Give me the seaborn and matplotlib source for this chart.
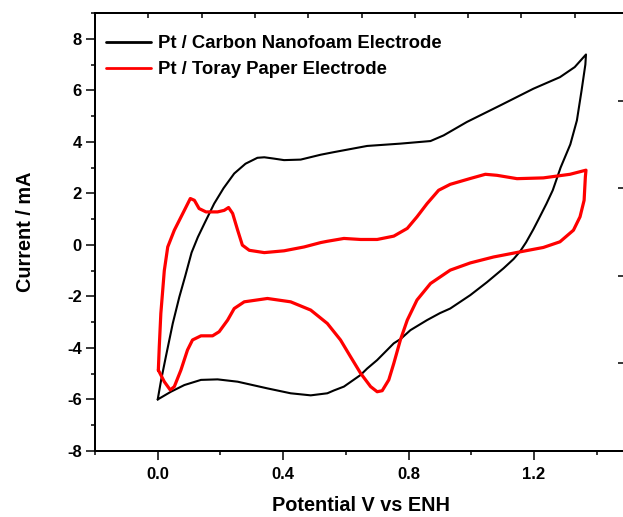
import matplotlib
matplotlib.use("Agg")
import matplotlib.pyplot as plt
from matplotlib.ticker import MultipleLocator, NullFormatter
import seaborn as sns
import pandas as pd

# Cyclic voltammograms: potential (V vs ENH) and current (mA)
nanofoam_v = [0.000, 0.011, 0.026, 0.048, 0.069, 0.088, 0.108, 0.128, 0.149, 0.180,
              0.210, 0.244, 0.280, 0.318, 0.340, 0.370, 0.403, 0.456, 0.520, 0.562,
              0.668, 0.774, 0.870, 0.912, 0.986, 1.092, 1.198, 1.283, 1.330, 1.366,
              1.364, 1.352, 1.337, 1.316, 1.285, 1.260, 1.240, 1.215, 1.198, 1.175,
              1.156, 1.135, 1.103, 1.050, 0.997, 0.933, 0.900, 0.859, 0.806, 0.775,
              0.753, 0.700, 0.668, 0.647, 0.594, 0.562, 0.541, 0.488, 0.424, 0.350,
              0.255, 0.191, 0.138, 0.085, 0.042, 0.000]
nanofoam_i = [-6.00, -5.24, -4.34, -3.05, -2.02, -1.20, -0.30, 0.30, 0.83, 1.60,
              2.20, 2.77, 3.15, 3.38, 3.40, 3.35, 3.29, 3.31, 3.50, 3.60,
              3.84, 3.93, 4.03, 4.25, 4.77, 5.41, 6.06, 6.51, 6.90, 7.39,
              7.00, 6.00, 4.83, 3.90, 3.00, 2.12, 1.60, 1.00, 0.60, 0.10,
              -0.25, -0.55, -0.91, -1.45, -1.95, -2.47, -2.65, -2.92, -3.31, -3.65,
              -3.82, -4.47, -4.80, -5.05, -5.50, -5.65, -5.76, -5.84, -5.76, -5.57,
              -5.31, -5.22, -5.24, -5.44, -5.70, -6.00]

toray_v = [0.002, 0.005, 0.010, 0.016, 0.021, 0.032, 0.053, 0.080, 0.104, 0.117,
           0.132, 0.154, 0.191, 0.212, 0.226, 0.239, 0.255, 0.270, 0.292, 0.340,
           0.403, 0.467, 0.520, 0.541, 0.594, 0.647, 0.700, 0.753, 0.796, 0.827,
           0.859, 0.896, 0.933, 0.995, 1.045, 1.082, 1.146, 1.230, 1.315, 1.366,
           1.364, 1.360, 1.347, 1.326, 1.283, 1.230, 1.156, 1.071, 0.997, 0.933,
           0.870, 0.827, 0.796, 0.774, 0.753, 0.737, 0.716, 0.700, 0.679, 0.647,
           0.615, 0.583, 0.541, 0.488, 0.424, 0.350, 0.276, 0.244, 0.223, 0.196,
           0.175, 0.138, 0.111, 0.095, 0.074, 0.053, 0.040, 0.021, 0.002]
toray_i = [-4.86, -3.95, -2.66, -1.76, -1.00, -0.08, 0.57, 1.22, 1.80, 1.73,
           1.41, 1.28, 1.28, 1.34, 1.45, 1.22, 0.57, -0.01, -0.21, -0.30,
           -0.23, -0.08, 0.09, 0.14, 0.25, 0.21, 0.21, 0.34, 0.64, 1.09,
           1.60, 2.12, 2.35, 2.57, 2.74, 2.70, 2.57, 2.60, 2.74, 2.90,
           2.64, 1.73, 1.09, 0.57, 0.12, -0.10, -0.27, -0.47, -0.70, -0.98,
           -1.50, -2.14, -2.92, -3.69, -4.60, -5.24, -5.66, -5.70, -5.50, -4.98,
           -4.34, -3.69, -3.05, -2.53, -2.21, -2.08, -2.21, -2.47, -2.92, -3.37,
           -3.53, -3.53, -3.69, -4.08, -4.86, -5.50, -5.63, -5.31, -4.86]

labels = ["Pt / Carbon Nanofoam Electrode", "Pt / Toray Paper Electrode"]

sns.set_theme(style="ticks")
plt.rcParams["font.family"] = ["Liberation Sans", "DejaVu Sans"]
plt.rcParams["font.weight"] = "bold"
plt.rcParams["axes.labelweight"] = "bold"
plt.rcParams["axes.unicode_minus"] = False
plt.rcParams["text.color"] = "black"
plt.rcParams["axes.labelcolor"] = "black"
plt.rcParams["xtick.color"] = "black"
plt.rcParams["ytick.color"] = "black"

fig = plt.figure(figsize=(6.23, 5.17), dpi=100)
ax = fig.add_axes([95 / 623, 1 - 451 / 517, 533 / 623, 438 / 517])

df_a = pd.DataFrame({"V": nanofoam_v, "I": nanofoam_i})
df_b = pd.DataFrame({"V": toray_v, "I": toray_i})
sns.lineplot(data=df_a, x="V", y="I", sort=False, estimator=None, color="black",
             linewidth=1.5, ax=ax, label=labels[0])
sns.lineplot(data=df_b, x="V", y="I", sort=False, estimator=None, color="#ff0000",
             linewidth=2.3, ax=ax, label=labels[1])

ax.set_xlim(-0.2, 1.5)
ax.set_ylim(-8, 9)
ax.set_xticks([0.0, 0.4, 0.8, 1.2])
ax.set_xticks([-0.2, 0.2, 0.6, 1.0, 1.4], minor=True)
ax.xaxis.set_major_formatter(plt.FuncFormatter(lambda v, p: f"{v:.1f}"))
ax.set_yticks([-8, -6, -4, -2, 0, 2, 4, 6, 8])
ax.yaxis.set_minor_locator(MultipleLocator(1))

for s in ax.spines.values():
    s.set_linewidth(1.4)
    s.set_color("black")
ax.tick_params(which="major", direction="out", length=6.5, width=1.1,
               labelsize=12, colors="black", pad=3)
ax.tick_params(which="minor", direction="out", length=3.2, width=1.1, colors="black")
ax.tick_params(axis="x", which="major", pad=5)

ax.set_xlabel("Potential V vs ENH", fontsize=14.3, fontweight="bold", labelpad=10)
ax.set_ylabel("Current / mA", fontsize=14.3, fontweight="bold", labelpad=23)

# Secondary scales on top and right with inward ticks only
top = ax.twiny()
top.set_xlim(0, 10)
top.set_xticks(range(1, 10))
top.xaxis.set_major_formatter(NullFormatter())
top.tick_params(axis="x", direction="in", length=3.6, width=1.1, colors="black")
right = ax.twinx()
right.set_ylim(0, 5)
right.set_yticks(range(1, 5))
right.yaxis.set_major_formatter(NullFormatter())
right.tick_params(axis="y", direction="in", length=7, width=1.1, colors="black")
for a in (top, right):
    for s in a.spines.values():
        s.set_linewidth(1.4)
        s.set_color("black")

leg = ax.legend(loc="upper left", frameon=False, fontsize=13.3, handlelength=2.45,
                handletextpad=0.35, labelspacing=0.5, borderaxespad=0.2,
                bbox_to_anchor=(0.0, 0.975))
for t in leg.get_texts():
    t.set_fontweight("bold")
    t.set_color("black")
for h in leg.get_lines():
    h.set_linewidth(2.0)

for t in ax.get_xticklabels() + ax.get_yticklabels():
    t.set_fontweight("bold")

fig.savefig("out.png", dpi=100)
